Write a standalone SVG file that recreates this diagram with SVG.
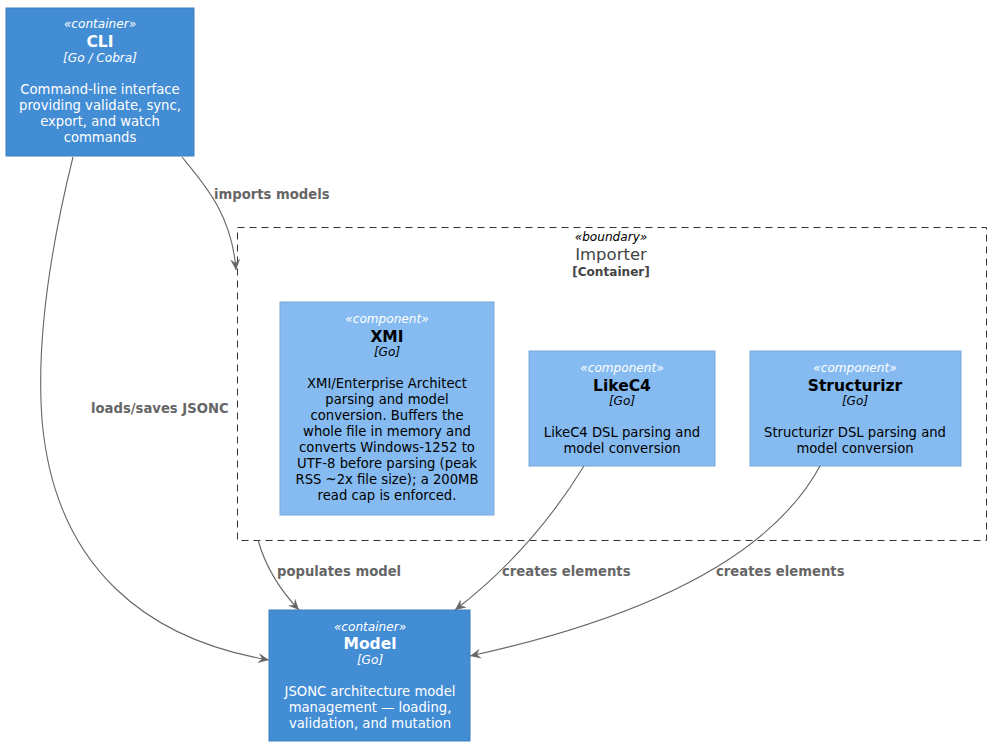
<svg xmlns="http://www.w3.org/2000/svg" width="996" height="751" viewBox="0 0 996 751">
<defs>
<marker id="arr" markerWidth="12" markerHeight="10" refX="11" refY="5" orient="auto" markerUnits="userSpaceOnUse">
<path d="M0,0 L11,5 L0,10 L4,5 Z" fill="#666666"/>
</marker>
<style>
text{font-family:"DejaVu Sans","Liberation Sans",sans-serif;text-anchor:middle}
.st{font-size:12.1px;font-style:italic;fill:#FFFFFF}
.tl{font-size:15.5px;font-weight:bold;fill:#FFFFFF}
.tc{font-size:12.1px;font-style:italic;fill:#FFFFFF}
.ds{font-size:13.2px;fill:#FFFFFF}
.comp .st{fill:#FFFFFF}
.comp .tl,.comp .ds,.comp .tc{fill:#000000}
.cont{fill:#438DD5;stroke:#3C7FC0;stroke-width:1}
.cmp{fill:#85BBF0;stroke:#78A8D8;stroke-width:1}
.edge{fill:none;stroke:#666666;stroke-width:1.1;marker-end:url(#arr)}
.lbl{font-size:13.2px;font-weight:bold;fill:#666666;text-anchor:start}
</style>
</defs>
<rect width="996" height="751" fill="#FFFFFF"/>

<g id="importer">
<rect x="237.5" y="227.5" width="749" height="313" fill="none" stroke="#333333" stroke-width="1" stroke-dasharray="7,5"/>
<text x="611" y="241" style="font-size:12.1px;font-style:italic;fill:#000000">«boundary»</text>
<text x="611" y="260" style="font-size:16.5px;fill:#444444">Importer</text>
<text x="611" y="276" style="font-size:12.1px;font-weight:bold;fill:#444444">[Container]</text>
</g>

<g id="cli">
<rect class="cont" x="6" y="8" width="188" height="148"/>
<text class="st" x="100" y="28">«container»</text>
<text class="tl" x="100" y="47">CLI</text>
<text class="tc" x="100" y="62">[Go / Cobra]</text>
<text class="ds" x="100" y="94">Command-line interface</text>
<text class="ds" x="100" y="110">providing validate, sync,</text>
<text class="ds" x="100" y="126">export, and watch</text>
<text class="ds" x="100" y="142">commands</text>
</g>

<g id="xmi" class="comp">
<rect class="cmp" x="280" y="302" width="214" height="213"/>
<text class="st" x="387" y="323">«component»</text>
<text class="tl" x="387" y="342">XMI</text>
<text class="tc" x="387" y="356">[Go]</text>
<text class="ds" x="387" y="388">XMI/Enterprise Architect</text>
<text class="ds" x="387" y="404">parsing and model</text>
<text class="ds" x="387" y="420">conversion. Buffers the</text>
<text class="ds" x="387" y="436">whole file in memory and</text>
<text class="ds" x="387" y="452">converts Windows-1252 to</text>
<text class="ds" x="387" y="468">UTF-8 before parsing (peak</text>
<text class="ds" x="387" y="484">RSS ~2x file size); a 200MB</text>
<text class="ds" x="387" y="500">read cap is enforced.</text>
</g>

<g id="likec4" class="comp">
<rect class="cmp" x="529" y="351" width="186" height="115"/>
<text class="st" x="622" y="372">«component»</text>
<text class="tl" x="622" y="391">LikeC4</text>
<text class="tc" x="622" y="405">[Go]</text>
<text class="ds" x="622" y="437">LikeC4 DSL parsing and</text>
<text class="ds" x="622" y="453">model conversion</text>
</g>

<g id="structurizr" class="comp">
<rect class="cmp" x="750" y="351" width="211" height="115"/>
<text class="st" x="855" y="372">«component»</text>
<text class="tl" x="855" y="391">Structurizr</text>
<text class="tc" x="855" y="405">[Go]</text>
<text class="ds" x="855" y="437">Structurizr DSL parsing and</text>
<text class="ds" x="855" y="453">model conversion</text>
</g>

<g id="model">
<rect class="cont" x="269" y="610" width="201" height="131"/>
<text class="st" x="370" y="631">«container»</text>
<text class="tl" x="370" y="649">Model</text>
<text class="tc" x="370" y="664">[Go]</text>
<text class="ds" x="370" y="696">JSONC architecture model</text>
<text class="ds" x="370" y="712">management — loading,</text>
<text class="ds" x="370" y="728">validation, and mutation</text>
</g>

<g id="connectors">
<path class="edge" d="M182,157 C205,185 232,215 236,270"/>
<text class="lbl" x="214" y="199">imports models</text>
<path class="edge" d="M73,157 C50,250 36,340 42,420 C55,570 150,640 269,660"/>
<text class="lbl" x="91" y="413">loads/saves JSONC</text>
<path class="edge" d="M258,540 C265,565 280,590 299,610"/>
<text class="lbl" x="277" y="576">populates model</text>
<path class="edge" d="M584,466 C560,505 520,560 455,610"/>
<text class="lbl" x="502" y="576">creates elements</text>
<path class="edge" d="M820,466 C780,540 680,610 470,656"/>
<text class="lbl" x="716" y="576">creates elements</text>
</g>
</svg>
